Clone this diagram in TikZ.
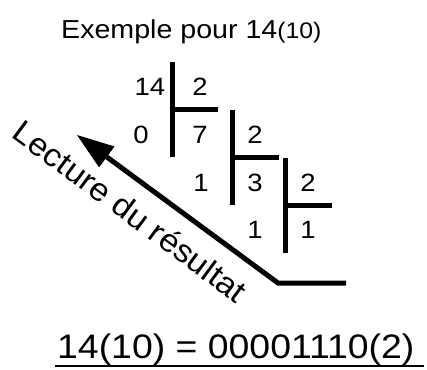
\documentclass[tikz,border=0pt]{standalone}
\usepackage{fontspec}
\setmainfont{Liberation Sans}
\usepackage{graphicx}
\usetikzlibrary{arrows.meta}
\newcommand{\wide}[1]{\scalebox{1.1}[1]{#1}}

\begin{document}
\begin{tikzpicture}[x=1pt,y=-1pt,
  num/.style={font=\fontsize{25}{30}\selectfont,anchor=base,inner sep=0pt},
  bar/.style={line width=5pt}]
\useasboundingbox (0,0) rectangle (427,369);
% Title
\node[anchor=base west,inner sep=0pt] (title) at (61,38.5)
  {\wide{\fontsize{26}{31}\selectfont Exemple pour 14\fontsize{22.5}{27}\selectfont(10)}};
% Successive divisions by 2
\node[num] (n14) at (150,95.5)  {\wide{14}};
\node[num] (d1)  at (200,95.5)  {\wide{2}};
\node[num] (r1)  at (141,143.5) {\wide{0}};
\node[num] (q1)  at (200,143.5) {\wide{7}};
\node[num] (d2)  at (255,143.5) {\wide{2}};
\node[num] (r2)  at (201,191)   {\wide{1}};
\node[num] (q2)  at (255,191)   {\wide{3}};
\node[num] (d3)  at (308,191)   {\wide{2}};
\node[num] (r3)  at (255,238.6) {\wide{1}};
\node[num] (q3)  at (308,238.6) {\wide{1}};
\foreach \bx/\by in {172/62, 232.5/110, 285.5/158}
  \draw[bar] (\bx,\by) -- ++(0,95) (\bx,\by+47.5) -- ++(46,0);
% Reading direction
\coordinate (tail) at (346,283);
\coordinate (corner) at (278,283);
\coordinate (tip) at (77,135);
\draw[line width=5pt,-{Triangle[length=37pt,width=26pt,line width=0pt]}]
  (tail) -- (corner) -- (tip);
\node[rotate=-36.5,anchor=base,inner sep=0pt] (lecture) at (123.5,220.5)
  {\fontsize{32}{38}\selectfont\scalebox{1.06}[1]{Lecture du résultat}};
% Result
\node[anchor=base west,inner sep=0pt] (res) at (57,358)
  {\wide{\fontsize{34}{40}\selectfont 14(10) = 00001110(2)}};
\draw[line width=2pt] ([xshift=-2pt,yshift=-8pt]res.base west)
  -- ([xshift=9pt,yshift=-8pt]res.base east);
\end{tikzpicture}
\end{document}
